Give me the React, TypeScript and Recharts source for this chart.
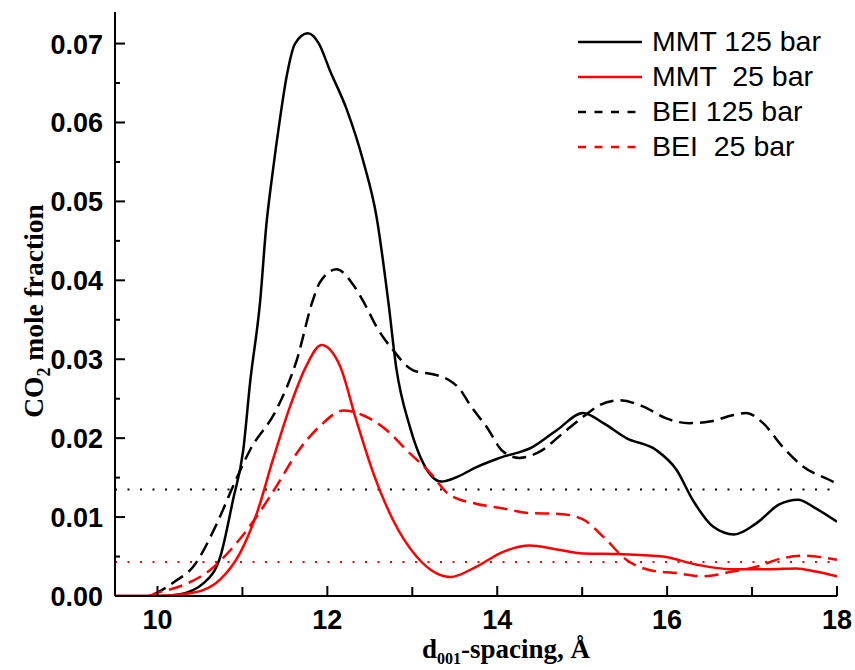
import React from "react";
import { LineChart, Line, XAxis, YAxis, ReferenceLine, Legend } from "recharts";

// d001 spacing (Å) / CO2 mole fraction
const mmt125X = [9.5, 10.0, 10.25, 10.54, 10.74, 10.89, 11.01, 11.09, 11.21, 11.28, 11.36, 11.44, 11.52, 11.62, 11.77, 11.9, 12.03, 12.23, 12.42, 12.58, 12.72, 12.81, 12.97, 13.13, 13.34, 13.55, 13.75, 14.03, 14.42, 14.7, 15.01, 15.25, 15.52, 15.87, 16.11, 16.3, 16.54, 16.79, 17.05, 17.32, 17.54, 17.75, 18.0];
const mmt125Y = [0, 0, 0.0002, 0.0016, 0.005, 0.0122, 0.0185, 0.027, 0.0375, 0.0468, 0.054, 0.0603, 0.0658, 0.07, 0.0713, 0.07, 0.0666, 0.0616, 0.0552, 0.048, 0.0371, 0.029, 0.0215, 0.0168, 0.0145, 0.0152, 0.0163, 0.0175, 0.0189, 0.021, 0.0232, 0.0219, 0.02, 0.0185, 0.016, 0.0122, 0.0088, 0.0078, 0.0092, 0.0116, 0.0122, 0.0111, 0.0094];

const mmt25X = [9.5, 10.0, 10.42, 10.74, 10.97, 11.17, 11.36, 11.56, 11.75, 11.93, 12.15, 12.34, 12.54, 12.77, 13.05, 13.28, 13.45, 13.75, 14.07, 14.38, 14.7, 15.01, 15.48, 15.95, 16.34, 16.74, 17.21, 17.52, 17.75, 18.0];
const mmt25Y = [0, 0, 0.0004, 0.0021, 0.0054, 0.0105, 0.0173, 0.024, 0.0291, 0.0318, 0.0291, 0.0223, 0.0156, 0.0097, 0.005, 0.0029, 0.0024, 0.0037, 0.0056, 0.0064, 0.0059, 0.0054, 0.0053, 0.005, 0.004, 0.0034, 0.0034, 0.0035, 0.0031, 0.0025];

const bei125X = [9.95, 10.01, 10.2, 10.42, 10.7, 10.89, 11.09, 11.4, 11.64, 11.83, 11.91, 12.11, 12.3, 12.44, 12.58, 12.77, 13.01, 13.28, 13.44, 13.56, 13.68, 13.87, 14.07, 14.26, 14.5, 14.77, 15.01, 15.21, 15.44, 15.72, 15.99, 16.26, 16.5, 16.77, 16.93, 17.13, 17.36, 17.6, 17.95, 18.0];
const bei125Y = [0.0002, 0.0005, 0.0018, 0.0037, 0.0092, 0.0139, 0.0185, 0.0236, 0.0299, 0.0375, 0.0397, 0.0414, 0.0395, 0.037, 0.0341, 0.0312, 0.0286, 0.028, 0.0273, 0.0262, 0.0242, 0.0215, 0.0183, 0.0175, 0.0183, 0.0206, 0.0227, 0.0242, 0.0248, 0.024, 0.0225, 0.0219, 0.0221, 0.0229, 0.0232, 0.0219, 0.0189, 0.0164, 0.0145, 0.0142];

const bei25X = [9.9, 10.0, 10.26, 10.62, 10.93, 11.17, 11.4, 11.64, 11.91, 12.19, 12.42, 12.7, 12.93, 13.21, 13.44, 13.75, 14.07, 14.38, 14.74, 15.01, 15.25, 15.52, 15.79, 16.11, 16.42, 16.77, 17.05, 17.36, 17.6, 18.0];
const bei25Y = [0, 0.0004, 0.0012, 0.0033, 0.0067, 0.0101, 0.0139, 0.0181, 0.0215, 0.0235, 0.0229, 0.021, 0.0185, 0.0156, 0.0128, 0.0117, 0.0111, 0.0105, 0.0104, 0.0097, 0.0075, 0.0046, 0.0033, 0.0029, 0.0025, 0.0031, 0.0037, 0.0048, 0.0051, 0.0046];

// dotted horizontal levels
const level125 = 0.0135;
const level25 = 0.0043;

const xTicks = [10, 11, 12, 13, 14, 15, 16, 17, 18];
const xLabelTicks = [10, 12, 14, 16, 18];
const yTicks = [0, 0.005, 0.01, 0.015, 0.02, 0.025, 0.03, 0.035, 0.04, 0.045, 0.05, 0.055, 0.06, 0.065, 0.07];
const yLabelTicks = [0, 0.01, 0.02, 0.03, 0.04, 0.05, 0.06, 0.07];

const zip = (xs: number[], ys: number[]) => xs.map((x, i) => ({ x, y: ys[i] }));

const SERIES = [
  { name: "MMT 125 bar", data: zip(mmt125X, mmt125Y), color: "#000000", dash: undefined as string | undefined },
  { name: "MMT  25 bar", data: zip(mmt25X, mmt25Y), color: "#ff0000", dash: undefined as string | undefined },
  { name: "BEI 125 bar", data: zip(bei125X, bei125Y), color: "#000000", dash: "14 7" },
  { name: "BEI  25 bar", data: zip(bei25X, bei25Y), color: "#ff0000", dash: "14 7" },
];

const SANS = "'Liberation Sans', Arial, sans-serif";
const SERIF = "'Liberation Serif', 'Times New Roman', serif";
const near = (a: number, list: number[]) => list.some((b) => Math.abs(a - b) < 1e-9);

function XTick(props: any) {
  const { x, y, payload } = props;
  const major = near(payload.value, xLabelTicks);
  const axisY = y - 12;
  return (
    <g>
      <line x1={x} x2={x} y1={axisY} y2={axisY - (major ? 10 : 9)} stroke="#000" strokeWidth={2} />
      {major && (
        <text x={x} y={axisY + 33} textAnchor="middle" fontFamily={SANS} fontWeight="bold" fontSize={27} fill="#000">
          {payload.value}
        </text>
      )}
    </g>
  );
}

function YTick(props: any) {
  const { x, y, payload } = props;
  const major = near(payload.value, yLabelTicks);
  const axisX = x + 12;
  return (
    <g>
      <line x1={axisX} x2={axisX + (major ? 10 : 5)} y1={y} y2={y} stroke="#000" strokeWidth={2} />
      {major && (
        <text x={x} y={y} dy={10} textAnchor="end" fontFamily={SANS} fontWeight="bold" fontSize={27} fill="#000">
          {payload.value.toFixed(2)}
        </text>
      )}
    </g>
  );
}

function XTitle(props: any) {
  const { viewBox } = props;
  const cx = viewBox.x + viewBox.width / 2 + 30;
  return (
    <text x={cx} y={658} textAnchor="middle" fontFamily={SERIF} fontWeight="bold" fontSize={27} fill="#000">
      d<tspan dy={6} fontSize={16}>001</tspan>
      <tspan dy={-6}>-spacing, Å</tspan>
    </text>
  );
}

function YTitle() {
  return (
    <text x={43} y={311} transform="rotate(-90, 43, 311)" textAnchor="middle" fontFamily={SERIF} fontWeight="bold" fontSize={27.5} fill="#000">
      CO<tspan dy={7} fontSize={18}>2</tspan>
      <tspan dy={-7}> mole fraction</tspan>
    </text>
  );
}

const renderLegend = () => (
  <div style={{ fontFamily: SANS, fontSize: 28.5, color: "#000" }}>
    {SERIES.map((s) => (
      <div key={s.name} style={{ display: "flex", alignItems: "center", height: 35 }}>
        <svg width={64} height={10}>
          <line x1={0} y1={5} x2={64} y2={5} stroke={s.color} strokeWidth={2.5} strokeDasharray={s.dash ? "8 8.5" : undefined} />
        </svg>
        <span style={{ marginLeft: 10, whiteSpace: "pre", lineHeight: "35px" }}>{s.name}</span>
      </div>
    ))}
  </div>
);

export default function App() {
  return (
    <div style={{ position: "absolute", left: 0, top: 0, background: "#fff" }}>
      <LineChart width={855} height={670} margin={{ top: 12, right: 18, bottom: 0, left: 0 }}>
        <XAxis
          dataKey="x"
          type="number"
          domain={[9.5, 18]}
          ticks={xTicks}
          interval={0}
          allowDataOverflow
          height={74}
          tickLine={false}
          tickSize={0}
          tickMargin={12}
          axisLine={{ stroke: "#000", strokeWidth: 2 }}
          tick={<XTick />}
          label={<XTitle />}
        />
        <XAxis xAxisId="top" orientation="top" type="number" domain={[9.5, 18]} height={0} tick={false} tickLine={false} axisLine={{ stroke: "#000", strokeWidth: 2 }} />
        <YAxis
          type="number"
          domain={[0, 0.074]}
          ticks={yTicks}
          interval={0}
          allowDataOverflow
          width={115}
          tickLine={false}
          tickSize={0}
          tickMargin={12}
          axisLine={{ stroke: "#000", strokeWidth: 2 }}
          tick={<YTick />}
          label={<YTitle />}
        />
        <YAxis yAxisId="right" orientation="right" type="number" domain={[0, 0.074]} width={0} tick={false} tickLine={false} axisLine={{ stroke: "#000", strokeWidth: 2 }} />
        <ReferenceLine y={level125} stroke="#000" strokeWidth={2} strokeDasharray="2 10.5" />
        <ReferenceLine y={level25} stroke="#ff0000" strokeWidth={2} strokeDasharray="2 10.5" />
        {SERIES.map((s) => (
          <Line
            key={s.name}
            data={s.data}
            dataKey="y"
            name={s.name}
            type="monotone"
            stroke={s.color}
            strokeWidth={2.5}
            strokeDasharray={s.dash}
            dot={false}
            activeDot={false}
            isAnimationActive={false}
          />
        ))}
        <Legend
          layout="vertical"
          align="center"
          verticalAlign="middle"
          content={renderLegend}
          wrapperStyle={{ left: 578, top: 24, width: 270 }}
        />
      </LineChart>
    </div>
  );
}
